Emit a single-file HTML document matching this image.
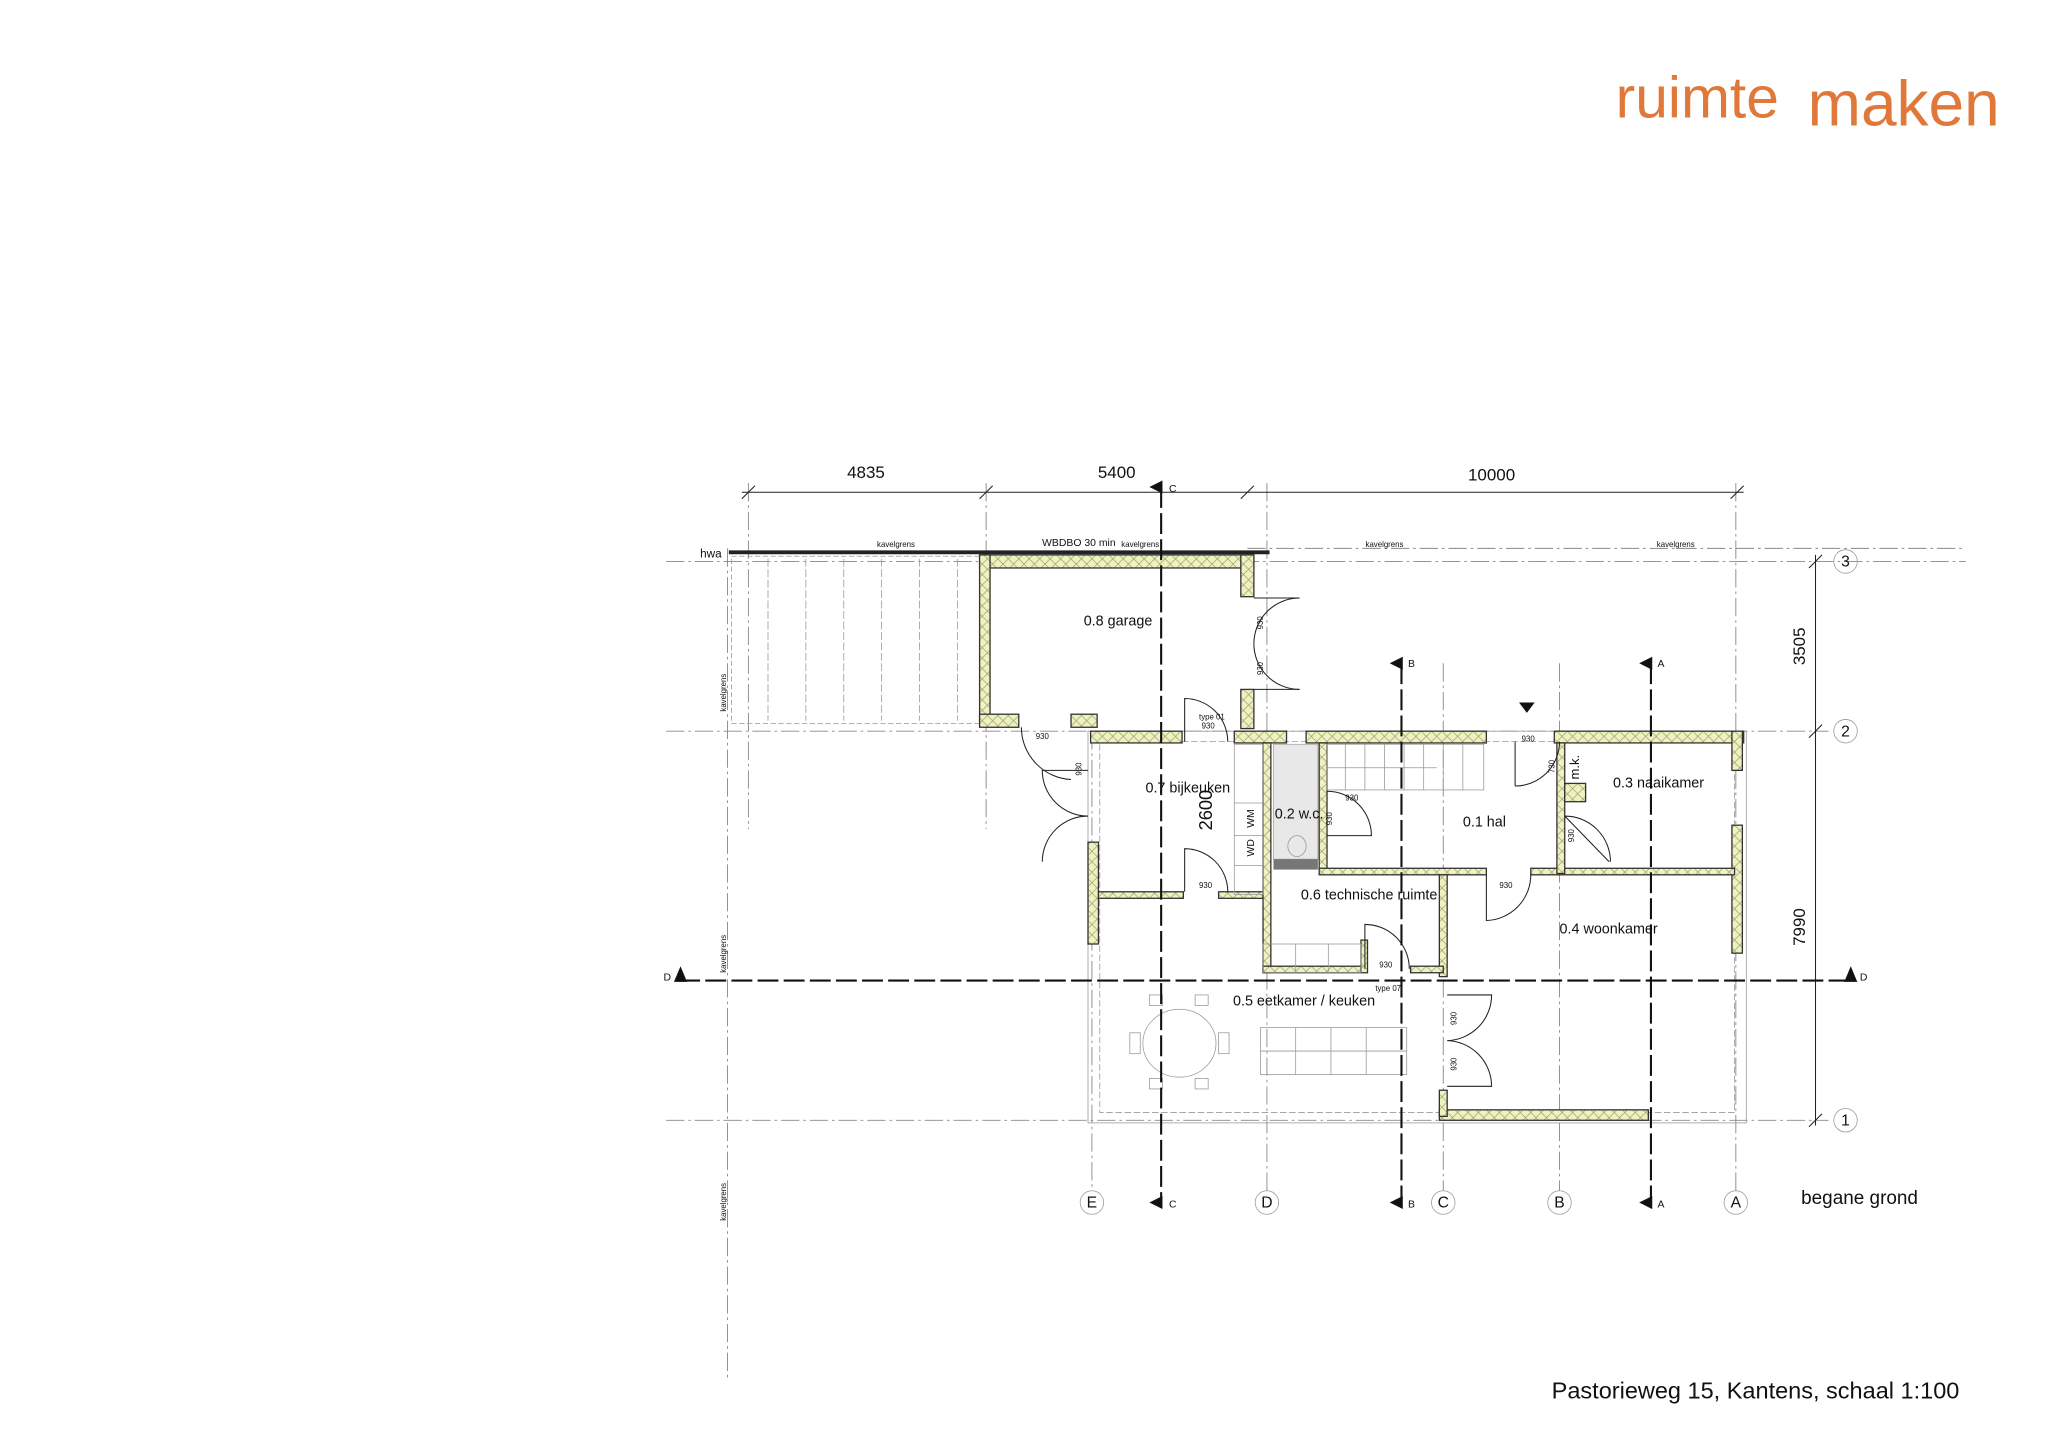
<!DOCTYPE html>
<html><head><meta charset="utf-8"><style>
html,body{margin:0;padding:0;background:#fff;}
svg{display:block;}
text{font-family:"Liberation Sans",sans-serif;fill:#111;}
.g{stroke:#888;stroke-width:0.7;stroke-dasharray:14 3 2 3;fill:none}
.w{fill:url(#hatch);stroke:#333;stroke-width:1}
.t{stroke:#222;stroke-width:0.8;fill:none}
.l{stroke:#999;stroke-width:0.6;fill:none}
.sec{stroke:#111;stroke-width:1.6;stroke-dasharray:16 4;fill:none}
.s{font-size:6px}
</style></head><body>
<svg width="2048" height="1448" viewBox="0 0 1568 1109" preserveAspectRatio="none" xmlns="http://www.w3.org/2000/svg">
<defs><pattern id="hatch" width="8" height="8" patternUnits="userSpaceOnUse"><rect width="8" height="8" fill="#eef2bf"/><path d="M0 0L8 8M8 0L0 8" stroke="#9a9a70" stroke-width="0.5"/></pattern></defs>
<text x="1237" y="90" style="font-size:45px;fill:#e0783a">ruimte</text>
<text x="1384" y="96" style="font-size:49px;fill:#e0783a">maken</text>

<line class="g" x1="510" y1="430" x2="1505" y2="430"/>
<line class="g" x1="510" y1="560" x2="1400" y2="560"/>
<line class="g" x1="510" y1="858" x2="1400" y2="858"/>
<line class="g" x1="955" y1="420" x2="1505" y2="420"/>
<line class="g" x1="557" y1="420" x2="557" y2="1055"/>
<line class="g" x1="573" y1="370" x2="573" y2="635"/>
<line class="g" x1="755" y1="370" x2="755" y2="635"/>
<line class="g" x1="836" y1="560" x2="836" y2="912"/>
<line class="g" x1="970" y1="370" x2="970" y2="912"/>
<line class="g" x1="1105" y1="508" x2="1105" y2="912"/>
<line class="g" x1="1194" y1="508" x2="1194" y2="912"/>
<line class="g" x1="1329" y1="370" x2="1329" y2="912"/>

<line class="t" x1="568" y1="377" x2="1335" y2="377"/>
<g class="t"><line x1="568" y1="382" x2="578" y2="372"/><line x1="750" y1="382" x2="760" y2="372"/><line x1="950" y1="382" x2="960" y2="372"/><line x1="1325" y1="382" x2="1335" y2="372"/></g>
<text x="663" y="366" text-anchor="middle" style="font-size:13px">4835</text>
<text x="855" y="366" text-anchor="middle" style="font-size:13px">5400</text>
<text x="1142" y="368" text-anchor="middle" style="font-size:13px">10000</text>
<line class="t" x1="1390" y1="425" x2="1390" y2="862"/>
<g class="t"><line x1="1385" y1="435" x2="1395" y2="425"/><line x1="1385" y1="565" x2="1395" y2="555"/><line x1="1385" y1="863" x2="1395" y2="853"/></g>
<text transform="translate(1382,495) rotate(-90)" text-anchor="middle" style="font-size:13px">3505</text>
<text transform="translate(1382,710) rotate(-90)" text-anchor="middle" style="font-size:13px">7990</text>

<g style="font-size:12px" text-anchor="middle">
<circle cx="1413" cy="430" r="9" class="l" stroke="#555"/><text x="1413" y="434">3</text>
<circle cx="1413" cy="560" r="9" class="l" stroke="#555"/><text x="1413" y="564">2</text>
<circle cx="1413" cy="858" r="9" class="l" stroke="#555"/><text x="1413" y="862">1</text>
<circle cx="836" cy="921" r="9" class="l" stroke="#555"/><text x="836" y="925">E</text>
<circle cx="970" cy="921" r="9" class="l" stroke="#555"/><text x="970" y="925">D</text>
<circle cx="1105" cy="921" r="9" class="l" stroke="#555"/><text x="1105" y="925">C</text>
<circle cx="1194" cy="921" r="9" class="l" stroke="#555"/><text x="1194" y="925">B</text>
<circle cx="1329" cy="921" r="9" class="l" stroke="#555"/><text x="1329" y="925">A</text>
</g>

<line x1="558" y1="423" x2="972" y2="423" stroke="#222" stroke-width="3"/>
<text x="536" y="427" style="font-size:9px">hwa</text>
<rect x="560" y="426" width="190" height="128" class="l" stroke-dasharray="4 2"/>
<g class="l" stroke-dasharray="6 2">
<line x1="588" y1="428" x2="588" y2="552"/><line x1="617" y1="428" x2="617" y2="552"/><line x1="646" y1="428" x2="646" y2="552"/><line x1="675" y1="428" x2="675" y2="552"/><line x1="704" y1="428" x2="704" y2="552"/><line x1="733" y1="428" x2="733" y2="552"/></g>
<text x="686" y="419" text-anchor="middle" class="s">kavelgrens</text>
<text x="826" y="418" text-anchor="middle" style="font-size:8px">WBDBO 30 min</text>
<text x="873" y="419" text-anchor="middle" class="s">kavelgrens</text>
<text x="1060" y="419" text-anchor="middle" class="s">kavelgrens</text>
<text x="1283" y="419" text-anchor="middle" class="s">kavelgrens</text>
<text transform="translate(556,545) rotate(-90)" class="s">kavelgrens</text>
<text transform="translate(556,745) rotate(-90)" class="s">kavelgrens</text>
<text transform="translate(556,935) rotate(-90)" class="s">kavelgrens</text>

<rect class="w" x="750" y="425" width="210" height="10"/>
<rect class="w" x="750" y="425" width="8" height="130"/>
<rect class="w" x="750" y="547" width="30" height="10"/>
<rect class="w" x="820" y="547" width="20" height="10"/>
<rect class="w" x="950" y="425" width="10" height="32"/>
<rect class="w" x="950" y="528" width="10" height="30"/>
<text x="856" y="479" text-anchor="middle" style="font-size:11px">0.8 garage</text>
<g class="t"><line x1="960" y1="458" x2="995" y2="458"/><path d="M960 493 A35 35 0 0 1 995 458"/><path d="M960 493 A35 35 0 0 0 995 528"/><line x1="995" y1="528" x2="960" y2="528"/></g>
<text transform="translate(967,482) rotate(-90)" class="s">930</text>
<text transform="translate(967,517) rotate(-90)" class="s">930</text>

<rect x="833" y="560" width="504" height="300" class="l" stroke="#777"/>
<rect x="842" y="568" width="486" height="284" class="l" stroke-dasharray="5 2"/>
<rect class="w" x="835" y="560" width="70" height="9"/>
<rect class="w" x="945" y="560" width="40" height="9"/>
<rect class="w" x="1000" y="560" width="138" height="9"/>
<rect class="w" x="1190" y="560" width="145" height="9"/>
<rect class="w" x="833" y="645" width="8" height="78"/>
<rect class="w" x="1326" y="560" width="8" height="30"/>
<rect class="w" x="1326" y="632" width="8" height="98"/>
<rect class="w" x="1102" y="850" width="160" height="8"/>
<rect class="w" x="841" y="683" width="65" height="5"/>
<rect class="w" x="933" y="683" width="37" height="5"/>
<rect class="w" x="967" y="569" width="6" height="176"/>
<rect class="w" x="1010" y="569" width="6" height="100"/>
<rect class="w" x="1010" y="665" width="128" height="5"/>
<rect class="w" x="1172" y="665" width="156" height="5"/>
<rect class="w" x="1192" y="569" width="6" height="100"/>
<rect class="w" x="1198" y="600" width="16" height="14"/>
<rect class="w" x="1102" y="670" width="6" height="78"/>
<rect class="w" x="1102" y="835" width="6" height="20"/>
<rect class="w" x="967" y="740" width="75" height="5"/>
<rect class="w" x="1042" y="720" width="5" height="25"/>
<rect class="w" x="1080" y="740" width="25" height="5"/>
<rect x="975" y="570" width="34" height="88" fill="#e8e8e8" stroke="#999" stroke-width="0.5"/>
<rect x="975" y="658" width="34" height="8" fill="#777"/>
<ellipse cx="993" cy="648" rx="7" ry="8" class="l" stroke="#555"/>
<g class="l" stroke="#777"><rect x="1016" y="570" width="120" height="35"/>
<line x1="1030" y1="570" x2="1030" y2="605"/><line x1="1045" y1="570" x2="1045" y2="605"/><line x1="1060" y1="570" x2="1060" y2="605"/><line x1="1075" y1="570" x2="1075" y2="605"/><line x1="1090" y1="570" x2="1090" y2="605"/><line x1="1105" y1="570" x2="1105" y2="605"/><line x1="1120" y1="570" x2="1120" y2="605"/><line x1="1016" y1="588" x2="1100" y2="588"/></g>
<rect x="945" y="570" width="22" height="115" class="l" stroke="#777"/>
<line x1="945" y1="615" x2="967" y2="615" class="l"/><line x1="945" y1="640" x2="967" y2="640" class="l"/><line x1="945" y1="663" x2="967" y2="663" class="l"/>
<text transform="translate(960,634) rotate(-90)" style="font-size:8px">WM</text>
<text transform="translate(960,656) rotate(-90)" style="font-size:8px">WD</text>
<rect x="967" y="723" width="75" height="22" class="l" stroke="#777"/>
<line x1="992" y1="723" x2="992" y2="745" class="l"/><line x1="1017" y1="723" x2="1017" y2="745" class="l"/>
<g class="t" stroke-width="0.6">
<path d="M907 568 L907 535 A33 33 0 0 1 940 568"/>
<path d="M907 683 L907 650 A33 33 0 0 1 940 683"/>
<path d="M1016 640 L1050 640 A34 34 0 0 0 1016 606"/>
<path d="M1160 568 L1160 602"/><path d="M1160 602 A34 34 0 0 0 1194 568"/>
<path d="M1198 625 L1232 660 M1198 625 A35 35 0 0 1 1233 660"/>
<path d="M1138 670 L1138 705 A35 35 0 0 0 1172 670"/>
<path d="M1045 742 L1045 708 A34 34 0 0 1 1079 742"/>
<path d="M1108 762 L1142 762 A35 35 0 0 1 1108 797 A35 35 0 0 1 1142 832 L1108 832"/>
<path d="M833 590 L798 590 A35 35 0 0 0 833 625 A35 35 0 0 0 798 660"/>
<path d="M782 557 A40 40 0 0 0 820 597"/>
</g>
<g class="s"><text x="918" y="551">type 01</text><text x="920" y="558">930</text>
<text x="918" y="680">930</text><text x="793" y="566">930</text><text x="1030" y="613">930</text><text x="1165" y="568">930</text>
<text x="1148" y="680">930</text><text x="1056" y="741">930</text><text x="1053" y="759">type 07</text></g>
<text transform="translate(828,594) rotate(-90)" class="s">930</text>
<text transform="translate(1020,632) rotate(-90)" class="s">930</text>
<text transform="translate(1190,592) rotate(-90)" class="s">730</text>
<text transform="translate(1205,645) rotate(-90)" class="s">930</text>
<text transform="translate(1115,785) rotate(-90)" class="s">930</text>
<text transform="translate(1115,820) rotate(-90)" class="s">930</text>
<g class="l" stroke="#666"><ellipse cx="903" cy="799" rx="28" ry="26"/>
<rect x="865" y="791" width="8" height="16"/><rect x="933" y="791" width="8" height="16"/>
<rect x="880" y="762" width="10" height="8"/><rect x="915" y="762" width="10" height="8"/><rect x="880" y="826" width="10" height="8"/><rect x="915" y="826" width="10" height="8"/>
<rect x="965" y="787" width="112" height="36"/><line x1="965" y1="805" x2="1077" y2="805"/><line x1="992" y1="787" x2="992" y2="823"/><line x1="1019" y1="787" x2="1019" y2="823"/><line x1="1046" y1="787" x2="1046" y2="823"/></g>
<g style="font-size:11px">
<text x="877" y="607">0.7 bijkeuken</text>
<text x="976" y="627">0.2 w.c.</text>
<text x="1120" y="633">0.1 hal</text>
<text x="1235" y="603">0.3 naaikamer</text>
<text x="996" y="689">0.6 technische ruimte</text>
<text x="1194" y="715">0.4 woonkamer</text>
<text x="944" y="770">0.5 eetkamer / keuken</text>
</g>
<text transform="translate(1209,597) rotate(-90)" style="font-size:10px">m.k.</text>
<text transform="translate(928,636) rotate(-90)" style="font-size:14px">2600</text>
<path d="M1163 538 L1175 538 L1169 546 Z" fill="#111"/>

<line class="sec" x1="520" y1="751" x2="1418" y2="751"/>
<path d="M516 752 L521 740 L526 752Z" fill="#111"/><text x="508" y="751" style="font-size:8px">D</text>
<path d="M1412 752 L1417 740 L1422 752Z" fill="#111"/><text x="1424" y="751" style="font-size:8px">D</text>
<line class="sec" x1="889" y1="373" x2="889" y2="921"/>
<path d="M880 373 L890 368 L890 378Z" fill="#111"/><text x="895" y="377" style="font-size:8px">C</text>
<path d="M880 921 L890 916 L890 926Z" fill="#111"/><text x="895" y="925" style="font-size:8px">C</text>
<line class="sec" x1="1073" y1="508" x2="1073" y2="921"/>
<path d="M1064 508 L1074 503 L1074 513Z" fill="#111"/><text x="1078" y="511" style="font-size:8px">B</text>
<path d="M1064 921 L1074 916 L1074 926Z" fill="#111"/><text x="1078" y="925" style="font-size:8px">B</text>
<line class="sec" x1="1264" y1="508" x2="1264" y2="921"/>
<path d="M1255 508 L1265 503 L1265 513Z" fill="#111"/><text x="1269" y="511" style="font-size:8px">A</text>
<path d="M1255 921 L1265 916 L1265 926Z" fill="#111"/><text x="1269" y="925" style="font-size:8px">A</text>

<text x="1379" y="922" style="font-size:14.5px">begane grond</text>
<text x="1188" y="1071" style="font-size:18px">Pastorieweg 15, Kantens, schaal 1:100</text>
</svg>
</body></html>
